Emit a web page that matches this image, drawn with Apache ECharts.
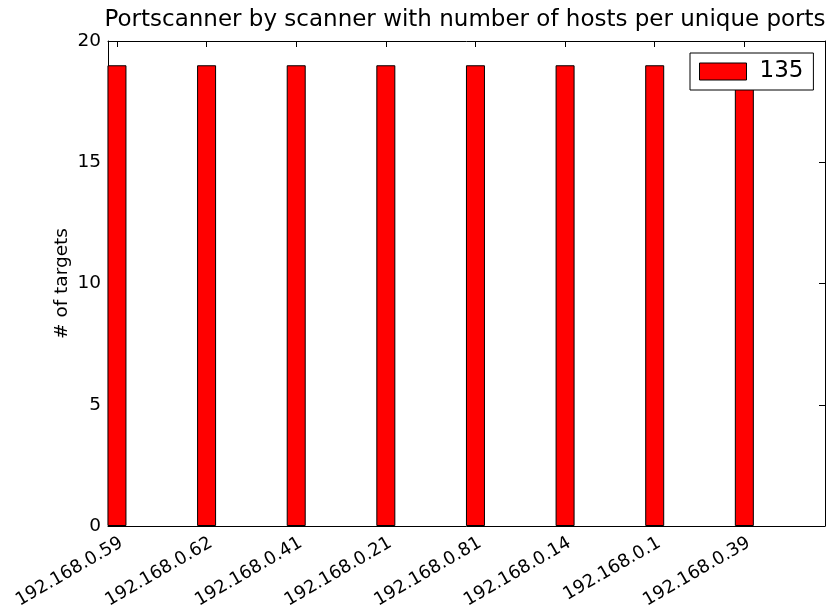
<!DOCTYPE html>
<html>
<head>
<meta charset="utf-8">
<script src="https://cdn.jsdelivr.net/npm/echarts@6/dist/echarts.min.js"></script>
<style>
  html, body { margin: 0; padding: 0; background: #fff; }
  #chart { width: 832px; height: 613px; }
</style>
</head>
<body>
<div id="chart"></div>
<script>
// Scanner hosts and the number of targets each probed on port 135
const scanners = ['192.168.0.59', '192.168.0.62', '192.168.0.41', '192.168.0.21',
                  '192.168.0.81', '192.168.0.14', '192.168.0.1', '192.168.0.39'];
const port135Targets = [19, 19, 19, 19, 19, 19, 19, 19];
const seriesName = '135';
const yTicks = [0, 5, 10, 15, 20];

const positions = scanners.map((_, i) => i);
const barData = port135Targets.map((v, i) => [i, v]);

const FONT = 'DejaVu Sans';
const chart = echarts.init(document.getElementById('chart'), null, { renderer: 'canvas' });

const frameLine = { show: true, onZero: false, lineStyle: { color: '#000', width: 1 } };

function xAxisDef(position, showLabels) {
  return {
    type: 'value',
    position: position,
    min: -0.1,
    max: 7.9,
    axisLine: frameLine,
    splitLine: { show: false },
    axisTick: { show: true, inside: true, length: 6, customValues: positions,
                lineStyle: { color: '#000' } },
    axisLabel: {
      show: showLabels,
      customValues: positions,
      rotate: 30,
      margin: 8,
      align: 'right',
      verticalAlign: 'top',
      color: '#000',
      fontFamily: FONT,
      fontSize: 18,
      formatter: v => scanners[Math.round(v)] || ''
    }
  };
}

function yAxisDef(position, showLabels) {
  return {
    type: 'value',
    position: position,
    min: 0,
    max: 20,
    interval: 5,
    axisLine: frameLine,
    splitLine: { show: false },
    axisTick: { show: true, inside: true, length: 6, lineStyle: { color: '#000' } },
    axisLabel: {
      show: showLabels,
      margin: 7,
      color: '#000',
      fontFamily: FONT,
      fontSize: 18.5,
      formatter: v => (yTicks.includes(v) ? String(v) : '')
    }
  };
}

const yLeft = yAxisDef('left', true);
yLeft.name = '# of targets';
yLeft.nameLocation = 'middle';
yLeft.nameGap = 36;
yLeft.nameMoveOverlap = false;
yLeft.nameTextStyle = { color: '#000', fontFamily: FONT, fontSize: 18.5 };

chart.setOption({
  animation: false,
  backgroundColor: '#fff',
  title: {
    text: 'Portscanner by scanner with number of hosts per unique ports',
    left: 460,
    top: 4,
    textAlign: 'center',
    textStyle: { color: '#000', fontFamily: FONT, fontSize: 23, fontWeight: 'normal' }
  },
  grid: { left: 108, right: 7, top: 41, bottom: 87, containLabel: false },
  legend: {
    data: [seriesName],
    left: 690,
    top: 53,
    orient: 'vertical',
    icon: 'rect',
    itemWidth: 47,
    itemHeight: 17,
    padding: [7, 10, 7, 9],
    borderColor: '#000',
    borderWidth: 1,
    backgroundColor: '#fff',
    itemStyle: { borderColor: '#000', borderWidth: 1 },
    textStyle: { color: '#000', fontFamily: FONT, fontSize: 23, lineHeight: 18,
                 padding: [0, 0, 0, 8] }
  },
  xAxis: [xAxisDef('bottom', true), xAxisDef('top', false)],
  yAxis: [yLeft, yAxisDef('right', false)],
  series: [{
    name: seriesName,
    type: 'bar',
    xAxisIndex: 0,
    yAxisIndex: 0,
    data: barData,
    barWidth: 19,
    itemStyle: { color: '#ff0000', borderColor: '#000', borderWidth: 1 },
    z: 1
  }]
});
</script>
</body>
</html>
